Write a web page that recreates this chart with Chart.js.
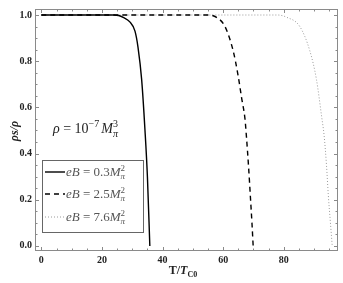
<!DOCTYPE html>
<html>
<head>
<meta charset="utf-8">
<script src="https://cdn.jsdelivr.net/npm/chart.js@4.4.1/dist/chart.umd.min.js"></script>
<style>
  html, body { margin: 0; padding: 0; background: #fff; }
  #wrap { width: 343px; height: 283px; position: relative; }
</style>
</head>
<body>
<div id="wrap"><canvas id="chart" width="343" height="283"></canvas></div>
<script>
// values
const tSolid = [0, 24, 25.5, 27, 29.2, 30.9, 31.9, 33.1, 34.2, 35, 35.8];
const rhoSolid = [1, 1, 0.998, 0.99, 0.97, 0.93, 0.86, 0.72, 0.5, 0.3, 0];
const tDash = [0, 55, 57.8, 60.6, 63.3, 64.9, 66.1, 67.2, 67.7, 68.4, 69, 69.5, 69.9];
const rhoDash = [1, 1, 0.99, 0.95, 0.845, 0.74, 0.64, 0.55, 0.47, 0.34, 0.21, 0.1, 0];
const tDot = [0, 78, 81, 85.3, 88.6, 90.8, 92.5, 93.3, 94.1, 94.7, 95.4, 96];
const rhoDot = [1, 1, 0.99, 0.95, 0.845, 0.72, 0.56, 0.48, 0.35, 0.22, 0.1, 0];
const fieldLabels = ["0.3", "2.5", "7.6"];
const xTicks = [0, 20, 40, 60, 80];
const yTicks = [0, 0.2, 0.4, 0.6, 0.8, 1.0];

const SERIF = '"Liberation Serif", "DejaVu Serif", serif';

function toPoints(xs, ys) {
  return xs.map((x, i) => ({ x: x, y: ys[i] }));
}

// draws text with italics / sub / superscripts; returns the width
function drawRich(ctx, x, y, parts, size, color, dry) {
  let cx = x, prevStart = x, prevW = 0;
  ctx.fillStyle = color;
  ctx.textBaseline = "alphabetic";
  ctx.textAlign = "left";
  parts.forEach((p) => {
    const small = p.sup || p.sub;
    const fs = small ? Math.round(size * 0.68) : size;
    ctx.font = (p.i ? "italic " : "") + (p.b ? "bold " : "") + fs + "px " + SERIF;
    const dy = p.sup ? -size * 0.4 : p.sub ? size * 0.25 : 0;
    const w = ctx.measureText(p.t).width;
    if (p.stack) {
      if (!dry) ctx.fillText(p.t, prevStart, y + dy);
      cx = prevStart + Math.max(prevW, w);
      return;
    }
    if (!dry) ctx.fillText(p.t, cx, y + dy);
    prevStart = cx;
    prevW = w;
    cx += w + (p.gap || 0);
  });
  return cx - x;
}

const framePlugin = {
  id: "frame",
  afterDraw(chart) {
    const ctx = chart.ctx;
    const a = chart.chartArea;
    const xs = chart.scales.x, ys = chart.scales.y;
    ctx.save();
    ctx.strokeStyle = "#8a8a8a";
    ctx.lineWidth = 1;
    ctx.strokeRect(a.left + 0.5, a.top + 0.5, a.right - a.left - 1, a.bottom - a.top - 1);

    ctx.beginPath();
    for (let v = 0; v <= 95; v += 5) {
      const px = Math.round(xs.getPixelForValue(v)) + 0.5;
      const len = v % 20 === 0 ? 4 : 2.5;
      ctx.moveTo(px, a.bottom); ctx.lineTo(px, a.bottom - len);
      ctx.moveTo(px, a.top); ctx.lineTo(px, a.top + len);
    }
    for (let k = 0; k <= 20; k++) {
      const v = k * 0.05;
      const py = Math.round(ys.getPixelForValue(v)) + 0.5;
      const len = k % 4 === 0 ? 4 : 2.5;
      ctx.moveTo(a.left, py); ctx.lineTo(a.left + len, py);
      ctx.moveTo(a.right, py); ctx.lineTo(a.right - len, py);
    }
    ctx.stroke();

    // axis titles
    ctx.save();
    ctx.translate(14, 131);
    ctx.rotate(-Math.PI / 2);
    const yt = [{ t: "ρs/ρ", i: true, b: true }];
    const yw = drawRich(ctx, 0, 0, yt, 12, "#222", true);
    drawRich(ctx, -yw / 2, 4, yt, 12, "#222");
    ctx.restore();

    const xt = [{ t: "T/", b: true }, { t: "T", b: true, i: true }, { t: "C0", b: true, sub: true }];
    const xw = drawRich(ctx, 0, 0, xt, 12, "#222", true);
    drawRich(ctx, 183 - xw / 2, 274, xt, 12, "#222");

    // annotation
    drawRich(ctx, 53, 133, [
      { t: "ρ", i: true }, { t: " = 10" }, { t: "−7", sup: true, gap: 2 },
      { t: "M", i: true }, { t: "3", sup: true }, { t: "π", sub: true, i: true, stack: true }
    ], 14, "#222");

    // legend box
    ctx.strokeStyle = "#666";
    ctx.lineWidth = 1;
    ctx.strokeRect(42.5, 160.5, 101, 72);
    const rows = [176, 198, 221];
    chart.data.datasets.forEach((ds, i) => {
      const yy = rows[i];
      ctx.beginPath();
      ctx.strokeStyle = ds.borderColor;
      ctx.lineWidth = ds.borderWidth;
      ctx.setLineDash(ds.borderDash || []);
      ctx.moveTo(45, yy - 4); ctx.lineTo(65, yy - 4);
      ctx.stroke();
      ctx.setLineDash([]);
      drawRich(ctx, 66, yy, [
        { t: "eB", i: true }, { t: " = " + fieldLabels[i] },
        { t: "M", i: true }, { t: "2", sup: true }, { t: "π", sub: true, i: true, stack: true }
      ], 13, "#555");
    });
    ctx.restore();
  }
};

const ctx = document.getElementById("chart").getContext("2d");
new Chart(ctx, {
  type: "line",
  data: {
    datasets: [
      {
        label: "eB = 0.3",
        data: toPoints(tSolid, rhoSolid),
        borderColor: "#000",
        borderWidth: 1.4,
        order: 0
      },
      {
        label: "eB = 2.5",
        data: toPoints(tDash, rhoDash),
        borderColor: "#000",
        borderWidth: 1.4,
        borderDash: [5, 4],
        order: 1
      },
      {
        label: "eB = 7.6",
        data: toPoints(tDot, rhoDot),
        borderColor: "#9a9a9a",
        borderWidth: 1,
        borderDash: [1, 2],
        order: 2
      }
    ]
  },
  options: {
    responsive: false,
    animation: false,
    devicePixelRatio: 1,
    layout: { padding: { left: 0, top: 8, right: 5, bottom: 0 } },
    elements: {
      point: { radius: 0 },
      line: { cubicInterpolationMode: "monotone", fill: false }
    },
    plugins: { legend: { display: false }, tooltip: { enabled: false } },
    scales: {
      x: {
        type: "linear",
        min: -2.1,
        max: 97.9,
        afterBuildTicks: (s) => { s.ticks = xTicks.map((v) => ({ value: v })); },
        afterFit: (s) => { s.height = 32; },
        grid: { display: false, drawTicks: false },
        border: { display: false },
        ticks: {
          padding: 3,
          color: "#222",
          font: { family: SERIF, size: 10, weight: "bold" },
          callback: (v) => String(v)
        }
      },
      y: {
        type: "linear",
        min: -0.022,
        max: 1.026,
        afterBuildTicks: (s) => { s.ticks = yTicks.map((v) => ({ value: v })); },
        afterFit: (s) => { s.width = 35; },
        grid: { display: false, drawTicks: false },
        border: { display: false },
        ticks: {
          padding: 3,
          color: "#222",
          font: { family: SERIF, size: 10, weight: "bold" },
          callback: (v) => Number(v).toFixed(1)
        }
      }
    }
  },
  plugins: [framePlugin]
});
</script>
</body>
</html>
